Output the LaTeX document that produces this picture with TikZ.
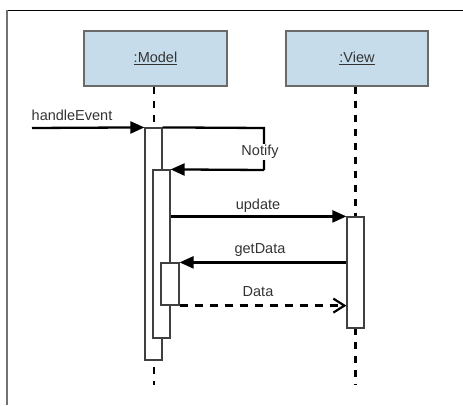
\documentclass[tikz,border=0pt]{standalone}
\usepackage{fontspec}
\setmainfont{Liberation Sans}
\usetikzlibrary{arrows.meta}
\definecolor{boxblue}{HTML}{C6DCEA}
\definecolor{boxedge}{HTML}{6A6A6A}
\definecolor{txt}{HTML}{333333}
\tikzset{
  obj/.style={draw=boxedge, line width=1.4pt, fill=boxblue, minimum height=55pt, inner sep=0pt, font=\fontsize{14.5}{16}\selectfont, text=txt},
  act/.style={draw=black!75, line width=1.2pt, fill=white, minimum width=17pt, inner sep=0pt},
  lifeline/.style={line width=2.6pt, dash pattern=on 7pt off 7pt},
  msg/.style={line width=2.3pt, -{Triangle[length=14pt,width=12pt]}},
  reply/.style={line width=2.3pt, dash pattern=on 8pt off 7pt, -{Straight Barb[length=11pt,width=14pt,line width=2.2pt]}},
  lbl/.style={font=\fontsize{14.5}{16}\selectfont, text=txt, inner sep=1pt}
}
\begin{document}
\begin{tikzpicture}[x=1pt,y=-1pt]
\useasboundingbox (0,0) rectangle (463,405);
% frame
\draw[line width=0.9pt] (6,10) -- (463,10);
\draw[line width=2pt, black!55] (6.5,10) -- (6.5,405);
% objects
\node[obj, minimum width=143pt] (model) at (155.5,58.5) {\underline{:Model}};
\node[obj, minimum width=142pt] (view) at (357,58.5) {\underline{:View}};
% lifelines
\coordinate (mend) at (154,385);
\coordinate (vend) at (355.5,385);
\coordinate (vtop) at (355.5,86.5);
\coordinate (mtop) at (154,86.5);
\draw[lifeline] (mtop) -- (154,128);
\draw[lifeline, dash phase=7pt] (154,360) -- (mend);
\draw[lifeline] (vtop) -- (355.5,217);
\draw[lifeline] (355.5,328) -- (vend);
% activations
\node[act, minimum height=232pt] (act1) at (153.5,244) {};
\node[act, minimum height=168pt] (act2) at (161.5,254) {};
\node[act, minimum height=42pt, minimum width=18pt] (act3) at (170,284) {};
\node[act, minimum height=111pt] (vact) at (355.5,272.5) {};
% handleEvent
\coordinate (hstart) at (32,128);
\draw[msg] (hstart) -- (act1.north west);
\node[lbl] (hlbl) at (72,115) {handleEvent};
% Notify self call
\coordinate (n1) at (264,128);
\coordinate (n2) at (264,170);
\draw[line width=2.3pt] (act1.north east) -- (n1) -- (n2);
\draw[msg] (n2) -- (act2.north east);
\node[lbl, fill=white] (nlbl) at (260,152) {Notify};
% update
\draw[msg] (act2.east |- vact.north) -- (vact.north west);
\node[lbl] (ulbl) at (258,206) {update};
% getData
\draw[msg] (vact.west |- act3.north) -- (act3.north east);
\node[lbl] (glbl) at (260,250) {getData};
% Data
\draw[reply] (act3.south east) -- (vact.west |- act3.south);
\node[lbl] (dlbl) at (258,292) {Data};
\end{tikzpicture}
\end{document}
